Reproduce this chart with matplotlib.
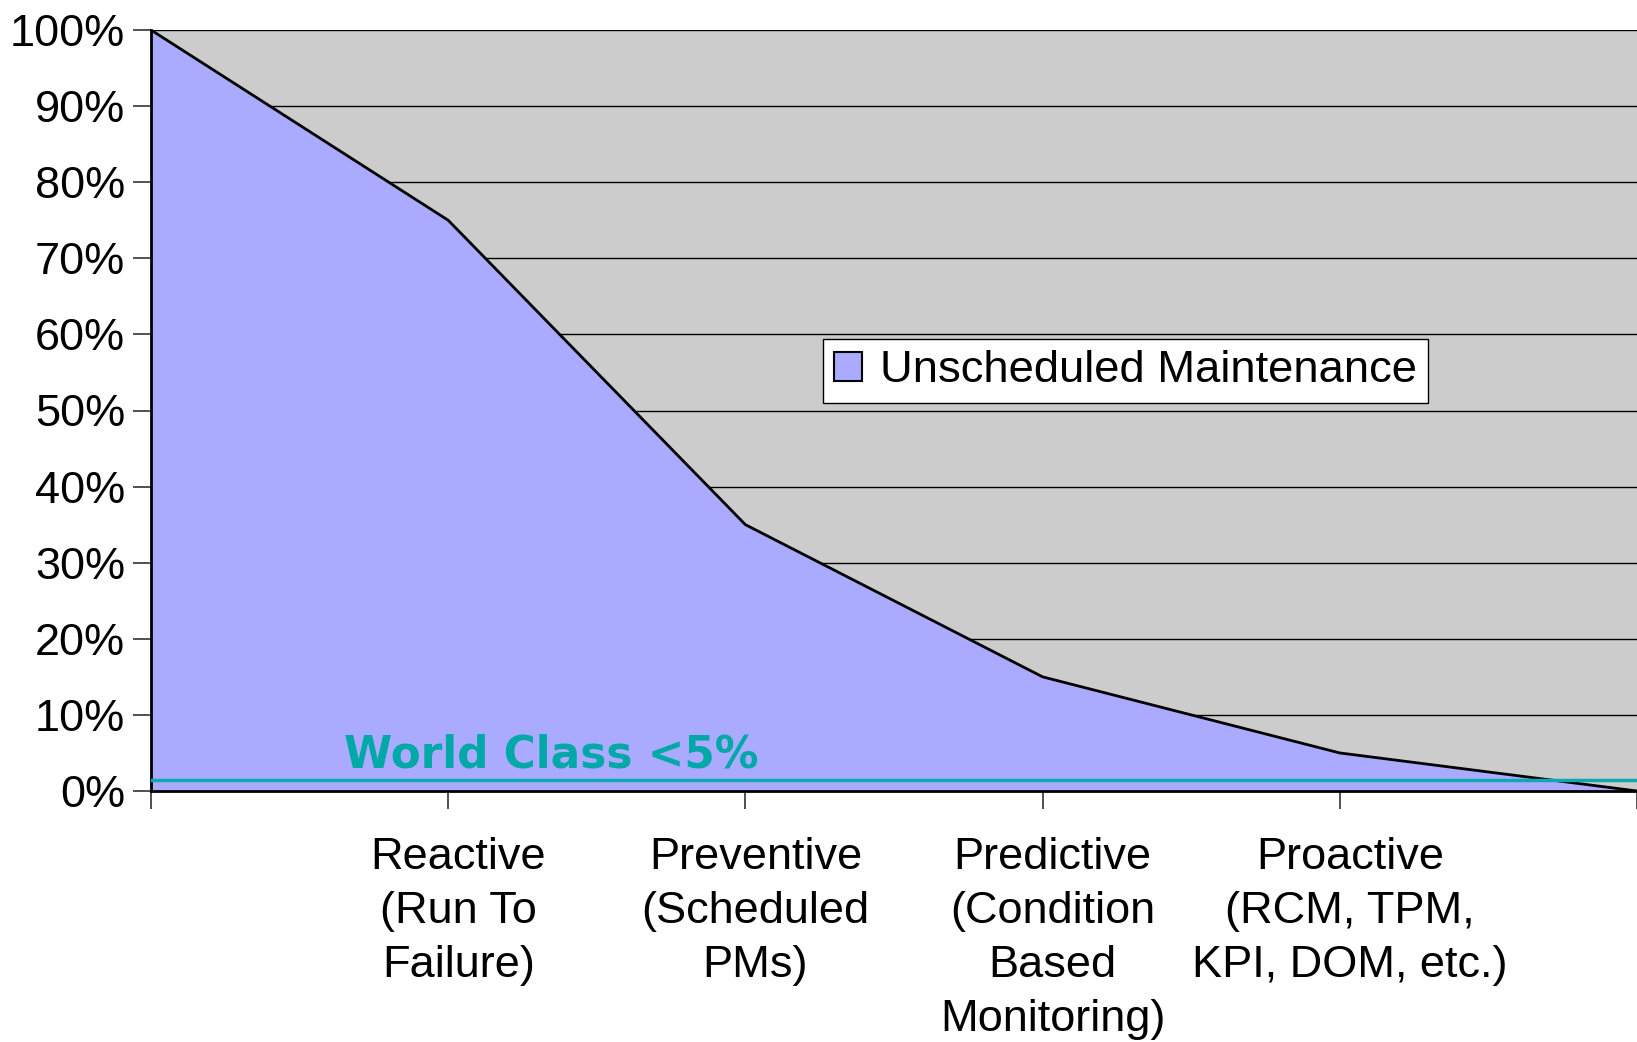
import numpy as np
import matplotlib.pyplot as plt
from matplotlib.transforms import ScaledTranslation

# data
positions = [0, 1, 2, 3, 4, 5]
unscheduled = [100, 75, 35, 15, 5, 0]
categories = ['Reactive\n(Run To\nFailure)',
              'Preventive\n(Scheduled\nPMs)',
              'Predictive\n(Condition\nBased\nMonitoring)',
              'Proactive\n(RCM, TPM,\nKPI, DOM, etc.)']
world_class = 1.4

plt.rcParams['font.family'] = ['Liberation Sans', 'DejaVu Sans']

fig = plt.figure(figsize=(16.37, 10.42), dpi=100)
ax = fig.add_axes([151 / 1637, 251 / 1042, 1 - 151 / 1637, 761 / 1042])
ax.set_facecolor('#cccccc')

ax.fill_between(positions, unscheduled, 0, color='#aaaaff', label='Unscheduled Maintenance',
                edgecolor='none', zorder=2)
ax.plot(positions, unscheduled, color='black', lw=2, zorder=3)
ax.axhline(world_class, color='#10a8b0', lw=2.5, zorder=4)
ax.text(0.651, 3.1, 'World Class <5%', color='#00a8a8', fontsize=31.5, fontweight='bold',
        family='DejaVu Sans', va='baseline', ha='left', zorder=5)

ax.set_xlim(0, 5)
ax.set_ylim(0, 100)
ax.set_yticks(np.arange(0, 101, 10))
ax.set_yticklabels([f'{v}%' for v in range(0, 101, 10)])
ax.yaxis.grid(True, color='black', lw=1)
ax.set_axisbelow(True)

ax.set_xticks(positions)
ax.set_xticklabels([''] + categories + [''])
ax.tick_params(axis='both', labelsize=32.5, length=13, width=1.2, color='#333333')
ax.tick_params(axis='y', pad=5.5)
ax.tick_params(axis='x', pad=20)
offset = ScaledTranslation(10 / 100, 0, fig.dpi_scale_trans)
for lab in ax.get_xticklabels():
    lab.set_linespacing(1.41)
    lab.set_transform(lab.get_transform() + offset)

for s in ['top', 'right']:
    ax.spines[s].set_visible(False)
ax.spines['left'].set_linewidth(2)
ax.spines['bottom'].set_linewidth(2)

leg = ax.legend(loc='upper left', bbox_to_anchor=(823 / 1637, 1 - 339 / 1042),
                bbox_transform=fig.transFigure, fontsize=32.7, fancybox=False,
                framealpha=1, edgecolor='black', borderpad=0.25, handlelength=0.6,
                handleheight=0.6, handletextpad=0.4, borderaxespad=0)
leg.get_frame().set_linewidth(1)
for h in leg.legend_handles:
    h.set_edgecolor('black')
    h.set_linewidth(1.5)

fig.savefig('out.png', dpi=100)
